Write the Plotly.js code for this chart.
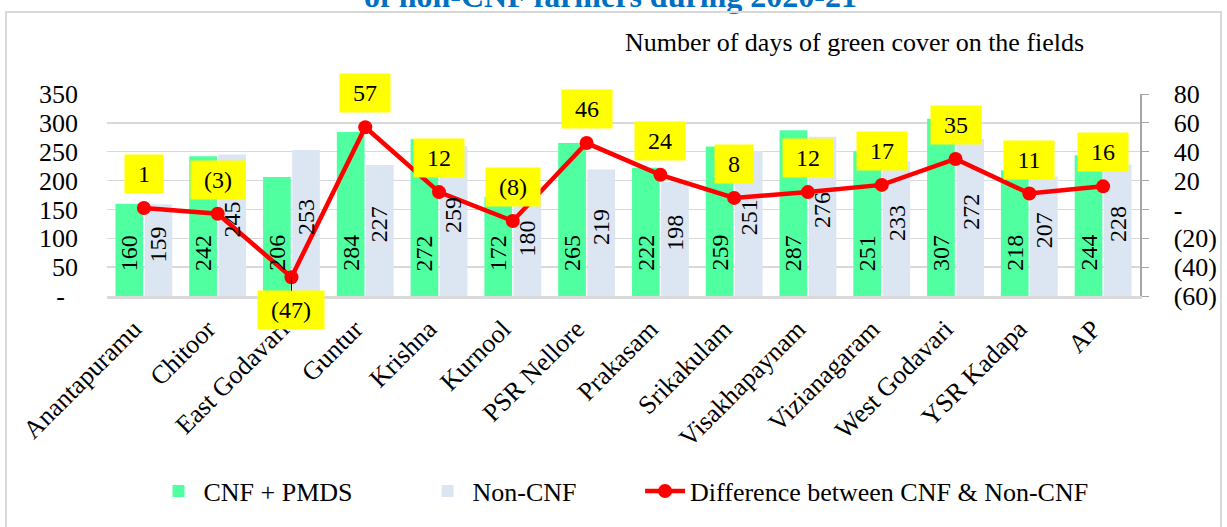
<!DOCTYPE html>
<html>
<head>
<meta charset="utf-8">
<script src="https://cdn.plot.ly/plotly-3.0.1.min.js"></script>
<style>
html,body{margin:0;padding:0;background:#fff;}
#chart{width:1227px;height:527px;}
#frame{position:absolute;left:5px;top:11px;width:1213px;height:530px;border:2px solid #D9D9D9;pointer-events:none;}
</style>
</head>
<body>
<div id="chart"></div>
<div id="frame"></div>
<script>
const categories = ["Anantapuramu","Chitoor","East Godavari","Guntur","Krishna","Kurnool","PSR Nellore","Prakasam","Srikakulam","Visakhapaynam","Vizianagaram","West Godavari","YSR Kadapa","AP"];
const cnfPmds = [160,242,206,284,272,172,265,222,259,287,251,307,218,244];
const nonCnf = [159,245,253,227,259,180,219,198,251,276,233,272,207,228];
const difference = [1,-3,-47,57,12,-8,46,24,8,12,17,35,11,16];
const seriesNames = ["CNF + PMDS","Non-CNF","Difference between CNF & Non-CNF"];
const leftTickVals = [0,50,100,150,200,250,300,350];
const leftTickText = ["-\u00a0\u00a0","50","100","150","200","250","300","350"];
const rightTickVals = [-60,-40,-20,0,20,40,60,80];
const rightTickText = ["(60)","(40)","(20)","-","20","40","60","80"];

const FONT = "Liberation Serif, Times New Roman, serif";
const fmt = v => v < 0 ? "(" + Math.abs(v) + ")" : String(v);
const labelWidth = s => s.split("").reduce((w,c)=> w + (c === "(" || c === ")" ? 8 : 12), 0);
const pad = n => "\u00a0".repeat(n);

const traces = [
  {type:"bar", name:seriesNames[0] + pad(10), x:categories, y:cnfPmds, marker:{color:"#50FFA0"}, hoverinfo:"skip"},
  {type:"bar", name:seriesNames[1] + pad(9), x:categories, y:nonCnf, marker:{color:"#DCE6F2"}, hoverinfo:"skip"},
  {type:"scatter", mode:"lines+markers", name:seriesNames[2], x:categories, y:difference,
   yaxis:"y2", line:{color:"#FF0000",width:4.5}, marker:{color:"#FF0000",size:14}, hoverinfo:"skip"}
];

const annotations = [];
cnfPmds.forEach((v,i)=>annotations.push({
  x:categories[i], y:0, xref:"x", yref:"y", xshift:-14.6, yshift:43, yanchor:"middle",
  text:String(v), textangle:-90, showarrow:false, font:{family:FONT,size:24,color:"#000"}
}));
nonCnf.forEach((v,i)=>annotations.push({
  x:categories[i], y:v/2, xref:"x", yref:"y", xshift:14.6, yshift:6, yanchor:"middle",
  text:String(v), textangle:-90, showarrow:false, font:{family:FONT,size:24,color:"#000"}
}));
difference.forEach((v,i)=>{
  const t = fmt(v);
  const a = {
    x:categories[i], y:v, xref:"x", yref:"y2", text:t,
    bgcolor:"#FFFF00", borderpad:0, width:labelWidth(t)+26, height:38,
    font:{family:FONT,size:24,color:"#000"}
  };
  if (v < -30) {
    Object.assign(a, {showarrow:true, ax:0, ay:33, arrowhead:0, arrowwidth:1, arrowcolor:"#000", standoff:0});
  } else {
    Object.assign(a, {showarrow:false, yshift:34});
  }
  annotations.push(a);
});
annotations.push({xref:"paper", yref:"paper", x:0.487, y:1.483, xanchor:"center", yanchor:"middle", showarrow:false,
  text:"<b>of non-CNF farmers during 2020-21</b>", font:{family:FONT,size:32,color:"#0070C0"}});
annotations.push({xref:"paper", yref:"paper", x:0.724, y:1.255, xanchor:"center", yanchor:"middle", showarrow:false,
  text:"Number of days of green cover on the fields", font:{family:FONT,size:26,color:"#000"}});

const layout = {
  width:1227, height:527,
  margin:{l:107, r:87, t:94, b:229, pad:0},
  paper_bgcolor:"#fff", plot_bgcolor:"#fff",
  font:{family:FONT, size:26, color:"#000"},
  barmode:"group", bargap:0.21, bargroupgap:0.05,
  showlegend:true,
  legend:{orientation:"h", x:0.5, xanchor:"center", y:-0.966, yanchor:"middle",
    font:{family:FONT,size:26,color:"#000"}, itemwidth:40, traceorder:"normal"},
  xaxis:{type:"category", range:[-0.5,13.5], tickangle:-45, tickfont:{family:FONT,size:26,color:"#000"},
    showline:true, linecolor:"#D9D9D9", linewidth:2.5, ticks:"", showgrid:false, fixedrange:true,
    ticklabelshift:-10, ticklabelstandoff:5},
  yaxis:{range:[0,350], tickvals:leftTickVals, ticktext:leftTickText,
    tickfont:{family:FONT,size:26,color:"#000"}, showgrid:true, gridcolor:"#D9D9D9", gridwidth:1.5,
    zeroline:false, showline:false, ticks:"", ticklabelstandoff:28, fixedrange:true},
  yaxis2:{overlaying:"y", side:"right", range:[-60,80], tickvals:rightTickVals, ticktext:rightTickText,
    tickfont:{family:FONT,size:26,color:"#000"}, showgrid:false, zeroline:false,
    showline:true, linecolor:"#A6A6A6", linewidth:1.5, ticks:"outside", ticklen:7, tickcolor:"#A6A6A6",
    ticklabelstandoff:20, fixedrange:true},
  annotations:annotations
};

Plotly.newPlot("chart", traces, layout, {displayModeBar:false, staticPlot:true});
</script>
</body>
</html>
